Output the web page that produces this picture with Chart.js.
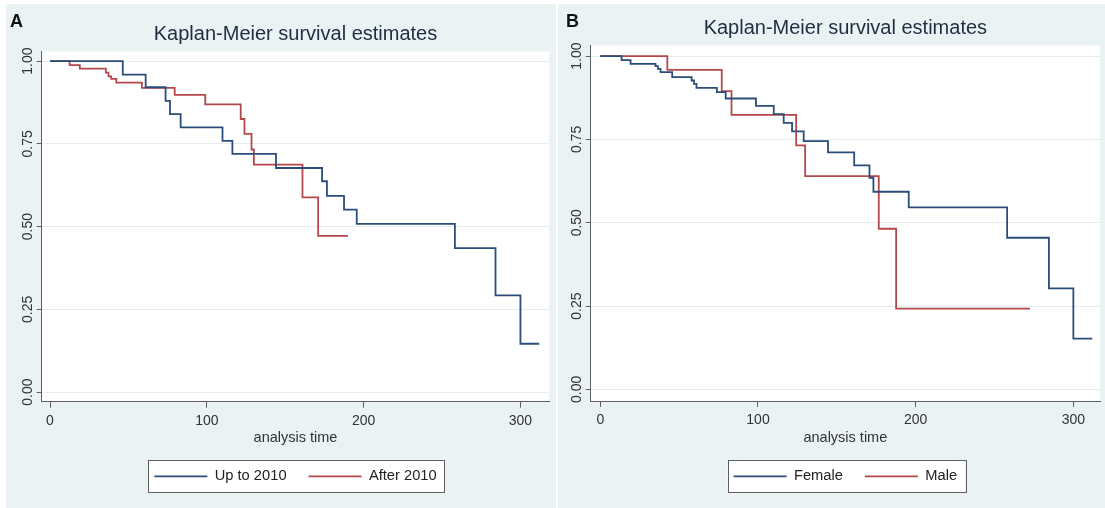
<!DOCTYPE html>
<html>
<head>
<meta charset="utf-8">
<script src="https://cdn.jsdelivr.net/npm/chart.js@4.4.1/dist/chart.umd.min.js"></script>
<style>
  html, body { margin: 0; padding: 0; background: #fff; }
  body { width: 1105px; height: 508px; position: relative; overflow: hidden; font-family: "Liberation Sans", Arial, sans-serif; }
  .panel { position: absolute; top: 4px; height: 504px; background: #eaf2f3; }
  #panelA { left: 6px; width: 550px; }
  #panelB { left: 558px; width: 547px; }
  .tag { position: absolute; top: 12px; font-weight: bold; font-size: 18px; line-height: 18px; color: #111; }
</style>
</head>
<body>
<div class="panel" id="panelA"><canvas id="chartA" width="550" height="504"></canvas></div>
<div class="panel" id="panelB"><canvas id="chartB" width="547" height="504"></canvas></div>
<div class="tag" style="left:10px">A</div>
<div class="tag" style="left:566px">B</div>
<script>
// axis ticks (same on both panels)
const xTicks = [0, 100, 200, 300];
const yTicks = [0, 0.25, 0.5, 0.75, 1];

// Panel A - period of diagnosis
const timeUpTo2010 = [0, 46.4, 61, 73.7, 76.5, 83.3, 110, 116.3, 144.1, 173.5, 176.6, 187.5, 195.6, 258.2, 284.1, 300, 312];
const survUpTo2010 = [1, 0.959, 0.921, 0.88, 0.84, 0.8, 0.759, 0.72, 0.677, 0.637, 0.593, 0.551, 0.508, 0.435, 0.292, 0.146, 0.146];
const timeAfter2010 = [0, 12.5, 19, 35.6, 37.3, 39, 42.3, 58.6, 79.5, 99, 121.6, 124, 128.5, 130, 161, 171, 190];
const survAfter2010 = [1, 0.988, 0.977, 0.965, 0.954, 0.946, 0.935, 0.919, 0.898, 0.869, 0.825, 0.78, 0.733, 0.687, 0.588, 0.472, 0.472];

// Panel B - sex
const timeFemale = [0, 13.5, 19.2, 35, 36.5, 38.2, 45.6, 57.9, 59.4, 61, 73.9, 79.5, 98.7, 110, 116.3, 121.6, 129, 144.4, 161, 170.7, 173.2, 195.6, 258, 284.5, 300, 312];
const survFemale = [1, 0.988, 0.977, 0.97, 0.962, 0.952, 0.937, 0.927, 0.917, 0.905, 0.892, 0.873, 0.851, 0.826, 0.8, 0.774, 0.745, 0.711, 0.672, 0.635, 0.593, 0.546, 0.455, 0.303, 0.152, 0.152];
const timeMale = [0, 42.5, 77, 83.2, 124.2, 129.9, 176.6, 187.6, 272.5];
const survMale = [1, 0.959, 0.895, 0.824, 0.732, 0.64, 0.482, 0.242, 0.242];

const FONT = '"Liberation Sans", Arial, sans-serif';
const NAVY = "#2a4d7a";
const MAROON = "#b5474c";
const AXIS = "#5f5f5f";
const TEXT = "#333333";

function toPoints(times, values) {
    return times.map((t, i) => ({ x: t, y: values[i] }));
}

// white plot region + white legend box with a frame
const stataBoxes = {
    id: "stataBoxes",
    beforeDraw(chart) {
        const ctx = chart.ctx;
        const a = chart.chartArea;
        ctx.save();
        ctx.fillStyle = "#ffffff";
        ctx.fillRect(a.left, a.top, a.right - a.left, a.bottom - a.top);
        const hb = chart.legend.legendHitBoxes;
        if (hb && hb.length) {
            const first = hb[0], last = hb[hb.length - 1];
            const left = first.left - 6;
            const right = last.left + last.width + 8;
            const mid = first.top + first.height / 2;
            ctx.fillRect(left, mid - 16, right - left, 32);
            ctx.strokeStyle = AXIS;
            ctx.lineWidth = 1;
            ctx.strokeRect(Math.round(left) + 0.5, Math.round(mid - 16) + 0.5, Math.round(right - left), 32);
        }
        ctx.restore();
    }
};

// Stata writes the y labels turned on their side
const sideYLabels = {
    id: "sideYLabels",
    afterDraw(chart) {
        const y = chart.scales.y;
        const ctx = chart.ctx;
        ctx.save();
        ctx.font = "14px " + FONT;
        ctx.fillStyle = TEXT;
        ctx.textAlign = "center";
        ctx.textBaseline = "middle";
        y.ticks.forEach(t => {
            ctx.save();
            ctx.translate(y.right - 14, y.getPixelForValue(t.value));
            ctx.rotate(-Math.PI / 2);
            ctx.fillText(t.value.toFixed(2), 0, 0);
            ctx.restore();
        });
        ctx.restore();
    }
};

function makeChart(id, series, lay) {
    const ctx = document.getElementById(id).getContext("2d");
    return new Chart(ctx, {
        type: "line",
        data: {
            datasets: series.map(s => ({
                label: s.label,
                data: toPoints(s.times, s.values),
                borderColor: s.color,
                backgroundColor: s.color,
                borderWidth: 1.8,
                stepped: true,
                pointRadius: 0,
                pointHoverRadius: 0,
                fill: false
            }))
        },
        options: {
            responsive: false,
            animation: false,
            events: [],
            layout: { padding: lay.padding },
            scales: {
                x: {
                    type: "linear",
                    min: lay.xMin,
                    max: lay.xMax,
                    afterBuildTicks: s => { s.ticks = xTicks.map(v => ({ value: v })); },
                    afterFit: s => { s.height = lay.xHeight; },
                    grid: { drawOnChartArea: false, tickLength: 6, tickColor: AXIS, color: AXIS },
                    border: { display: true, color: AXIS, width: 1 },
                    ticks: { font: { family: FONT, size: 14 }, color: TEXT, padding: 5, maxRotation: 0 },
                    title: {
                        display: true,
                        text: "analysis time",
                        font: { family: FONT, size: 14.5 },
                        color: TEXT,
                        padding: { top: 0, bottom: 0 }
                    }
                },
                y: {
                    type: "linear",
                    min: lay.yMin,
                    max: lay.yMax,
                    afterBuildTicks: s => { s.ticks = yTicks.map(v => ({ value: v })); },
                    afterFit: s => { s.width = 20; },
                    grid: { color: "#e4edef", tickColor: AXIS, tickLength: 5 },
                    border: { display: true, color: AXIS, width: 1 },
                    ticks: { display: false }
                }
            },
            plugins: {
                title: {
                    display: true,
                    fullSize: false,
                    text: "Kaplan-Meier survival estimates",
                    color: "#1e2d3f",
                    font: { family: FONT, size: 20, weight: "normal" },
                    padding: lay.titlePad
                },
                legend: {
                    position: "bottom",
                    fullSize: false,
                    labels: {
                        usePointStyle: true,
                        pointStyle: "line",
                        pointStyleWidth: 53,
                        padding: 22,
                        color: "#222222",
                        font: { family: FONT, size: 14.7 }
                    }
                },
                tooltip: { enabled: false }
            }
        },
        plugins: [stataBoxes, sideYLabels]
    });
}

makeChart("chartA", [
    { label: "Up to 2010", times: timeUpTo2010, values: survUpTo2010, color: NAVY },
    { label: "After 2010", times: timeAfter2010, values: survAfter2010, color: MAROON }
], {
    padding: { left: 15.7, right: 6.7, top: 0, bottom: 14.3 },
    titlePad: { top: 18, bottom: 5.5 },
    xHeight: 45.3,
    xMin: -5.3, xMax: 318.4,
    yMin: -0.029, yMax: 1.029
});

makeChart("chartB", [
    { label: "Female", times: timeFemale, values: survFemale, color: NAVY },
    { label: "Male", times: timeMale, values: survMale, color: MAROON }
], {
    padding: { left: 12.7, right: 5, top: 0, bottom: 14.3 },
    titlePad: { top: 12.5, bottom: 5 },
    xHeight: 46,
    xMin: -6.1, xMax: 316.9,
    yMin: -0.035, yMax: 1.032
});
</script>
</body>
</html>
